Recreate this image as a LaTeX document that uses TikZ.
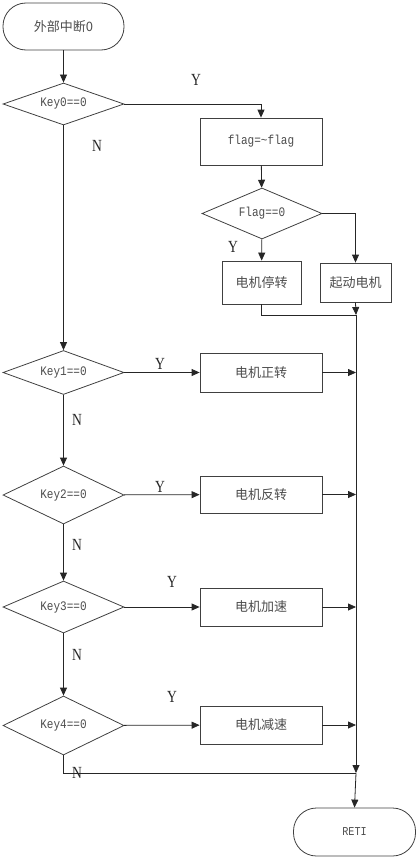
\documentclass[tikz,border=0pt]{standalone}
\usepackage{fontspec}
\setmainfont{Liberation Serif}
\newfontfamily\cjk{Noto Sans CJK SC}
\newfontfamily\monof[FakeStretch=0.85]{Liberation Mono}
\newfontfamily\ynf[FakeStretch=0.8]{Liberation Serif}
\usetikzlibrary{arrows.meta,shapes.geometric,calc}
\begin{document}
\begin{tikzpicture}[x=1pt,y=-1pt,
  line/.style={draw=black!85, line width=0.8pt},
  arr/.style={line, -{Triangle[length=8pt,width=7pt]}},
  shapebase/.style={draw=black!75, line width=0.8pt, inner sep=0pt, text=black!70},
  term/.style={shapebase, rounded corners=23pt, minimum width=121pt, minimum height=47pt},
  procbox/.style={shapebase, rectangle, minimum width=122pt, minimum height=38pt},
  decide/.style={shapebase, diamond, aspect=3, minimum width=121pt, font=\monof\fontsize{13}{13}\selectfont},
  zh/.style={font=\cjk\fontsize{13}{13}\selectfont},
  ml/.style={font=\monof\fontsize{13}{13}\selectfont},
  yn/.style={text=black!85, font=\ynf\fontsize{17}{17}\selectfont, inner sep=0pt}
]
\useasboundingbox (0,0) rectangle (418,859);

% nodes
\node[term, zh] (start) at (63.5,26.5) {外部中断0};
\node[decide, minimum height=42pt] (k0) at (63.5,104) {Key0==0};
\node[procbox, ml, minimum height=47pt] (flag) at (261,141.5) {flag=\char"007Eflag};
\node[decide, minimum width=120pt, minimum height=51pt] (fd) at (262,213.5) {Flag==0};
\node[procbox, zh, minimum width=79pt, minimum height=43pt] (stop) at (261.5,282.5) {电机停转};
\node[procbox, zh, minimum width=71pt, minimum height=39pt] (startm) at (355.5,282.5) {起动电机};

\node[decide, minimum height=44pt] (k1) at (63.5,372.5) {Key1==0};
\node[procbox, zh, minimum height=39pt] (b1) at (261,372.5) {电机正转};
\node[decide, minimum height=58pt] (k2) at (63.5,495) {Key2==0};
\node[procbox, zh, minimum height=37pt] (b2) at (261,494.5) {电机反转};
\node[decide, minimum height=52pt] (k3) at (63.5,607) {Key3==0};
\node[procbox, zh] (b3) at (261,607) {电机加速};
\node[decide, minimum height=59pt] (k4) at (63.5,725.5) {Key4==0};
\node[procbox, zh] (b4) at (261,725) {电机减速};
\node[term, minimum width=122pt, minimum height=48pt, font=\monof\fontsize{12}{12}\selectfont] (reti) at (354.5,832) {RETI};

\coordinate (j0) at (356,315);
\coordinate (j5) at (356,773);

% connectors
\draw[arr] (start) -- (k0);
\draw[arr] (k0.east) -| (flag.north);
\draw[arr] (flag) -- (fd);
\draw[arr] (fd) -- (stop);
\draw[arr] (fd.east) -| (startm.north);
\draw[arr] (startm.south) -- (j0);
\draw[line] (stop.south) |- (j0);
\draw[arr] (j0) -- (j5);
\draw[arr] (j5) -- (reti.north);

\draw[arr] (k0) -- (k1);
\draw[arr] (k1) -- (b1);
\draw[arr] (b1.east) -- (b1.east -| j0);
\draw[arr] (k1) -- (k2);
\draw[arr] (k2) -- (b2);
\draw[arr] (b2.east) -- (b2.east -| j0);
\draw[arr] (k2) -- (k3);
\draw[arr] (k3) -- (b3);
\draw[arr] (b3.east) -- (b3.east -| j0);
\draw[arr] (k3) -- (k4);
\draw[arr] (k4) -- (b4);
\draw[arr] (b4.east) -- (b4.east -| j0);
\draw[line] (k4.south) |- (j5);

% labels
\node[yn] (y0) at (196,80) {Y};
\node[yn] (n0) at (97,146) {N};
\node[yn] (yf) at (233,247) {Y};
\node[yn] (y1) at (160,364) {Y};
\node[yn] (n1) at (77,420) {N};
\node[yn] (y2) at (160,487) {Y};
\node[yn] (n2) at (77,545) {N};
\node[yn] (y3) at (172,582) {Y};
\node[yn] (n3) at (77,655) {N};
\node[yn] (y4) at (172,697) {Y};
\node[yn] (n4) at (77,773) {N};
\end{tikzpicture}
\end{document}
